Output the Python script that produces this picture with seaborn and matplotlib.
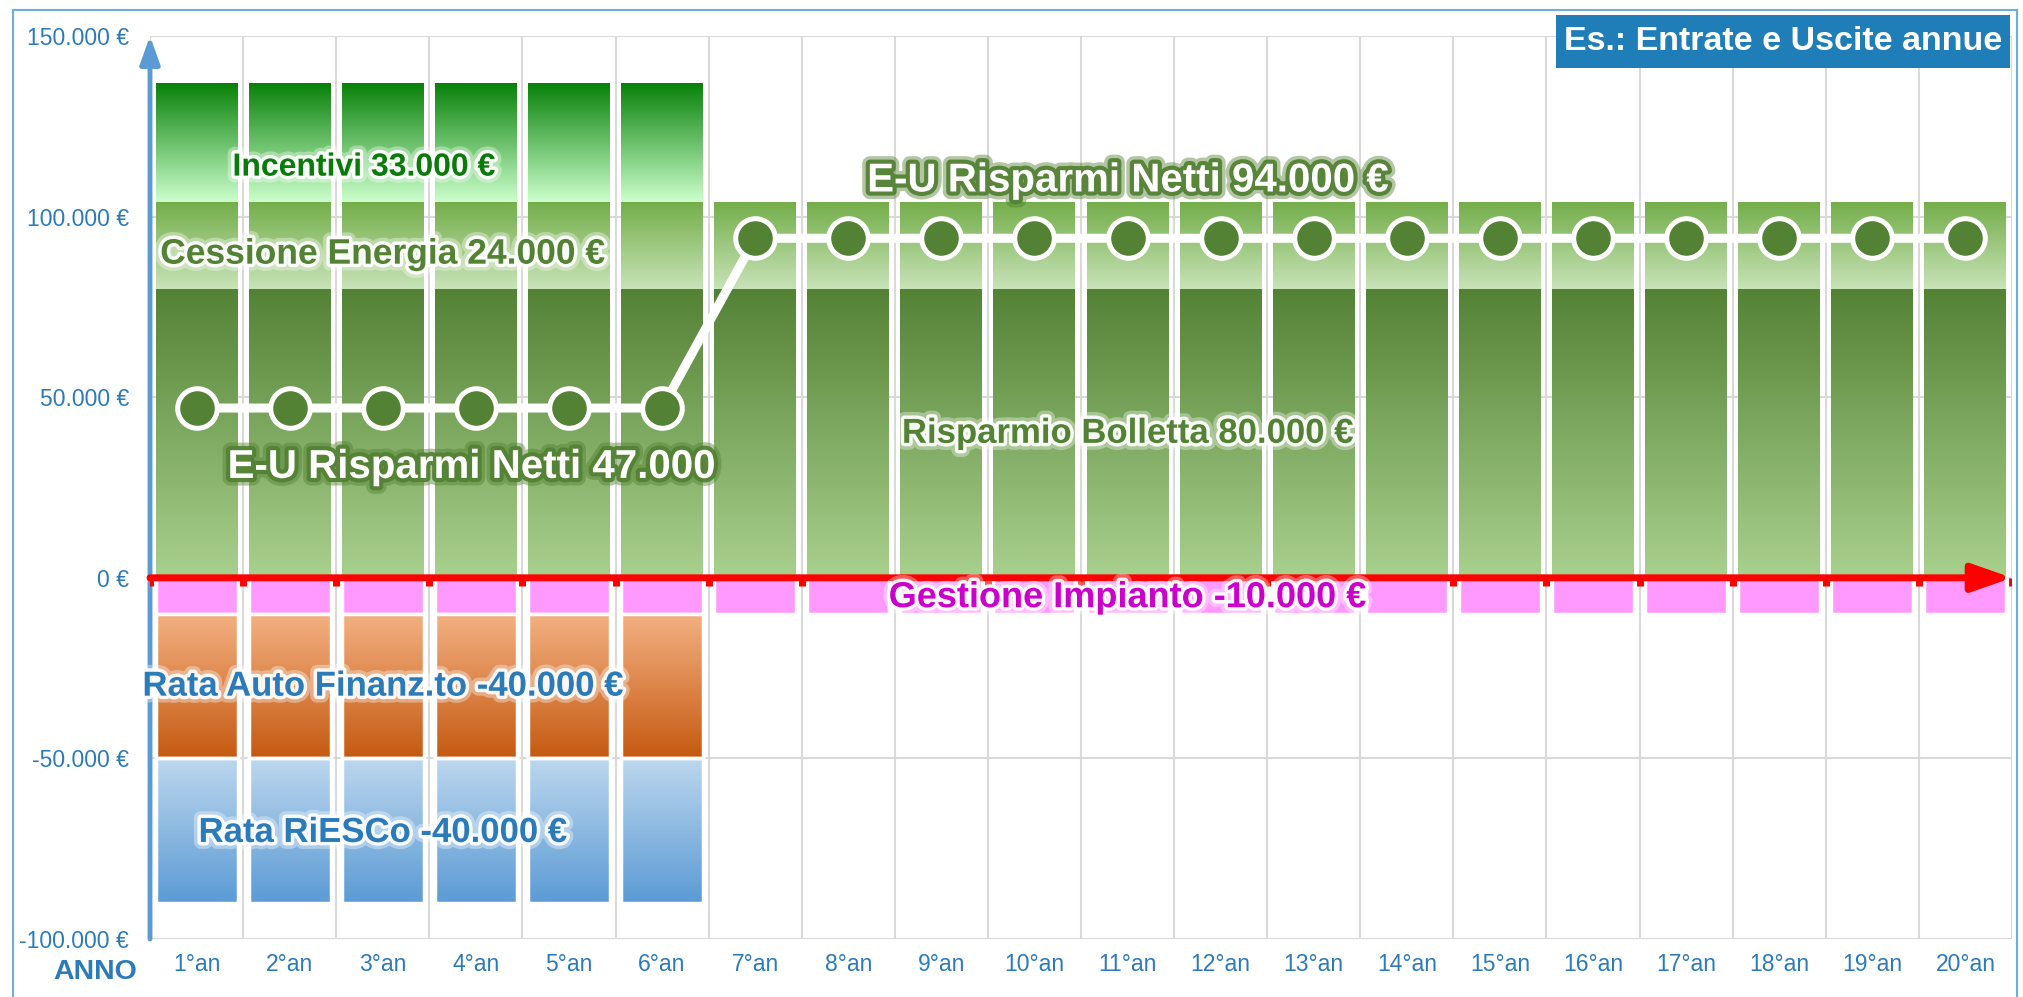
import numpy as np
import matplotlib
matplotlib.use('Agg')
import matplotlib.pyplot as plt
import matplotlib.patheffects as pe
from matplotlib.colors import LinearSegmentedColormap
from matplotlib.patches import Rectangle
import seaborn as sns

# dati (euro per anno)
anni = ['1°an', '2°an', '3°an', '4°an', '5°an', '6°an', '7°an', '8°an', '9°an', '10°an',
        '11°an', '12°an', '13°an', '14°an', '15°an', '16°an', '17°an', '18°an', '19°an', '20°an']
risparmio_bolletta = [80000, 80000, 80000, 80000, 80000, 80000, 80000, 80000, 80000, 80000,
                      80000, 80000, 80000, 80000, 80000, 80000, 80000, 80000, 80000, 80000]
cessione_energia = [24000, 24000, 24000, 24000, 24000, 24000, 24000, 24000, 24000, 24000,
                    24000, 24000, 24000, 24000, 24000, 24000, 24000, 24000, 24000, 24000]
incentivi = [33000, 33000, 33000, 33000, 33000, 33000, 0, 0, 0, 0,
             0, 0, 0, 0, 0, 0, 0, 0, 0, 0]
gestione_impianto = [-10000, -10000, -10000, -10000, -10000, -10000, -10000, -10000, -10000, -10000,
                     -10000, -10000, -10000, -10000, -10000, -10000, -10000, -10000, -10000, -10000]
rata_auto = [-40000, -40000, -40000, -40000, -40000, -40000, 0, 0, 0, 0,
             0, 0, 0, 0, 0, 0, 0, 0, 0, 0]
rata_riesco = [-40000, -40000, -40000, -40000, -40000, -40000, 0, 0, 0, 0,
               0, 0, 0, 0, 0, 0, 0, 0, 0, 0]
risparmi_netti = [47000, 47000, 47000, 47000, 47000, 47000, 94000, 94000, 94000, 94000,
                  94000, 94000, 94000, 94000, 94000, 94000, 94000, 94000, 94000, 94000]

BLU = '#2B7BBA'
VERDE = '#548235'
W = 0.88

sns.set_theme(style='white')
plt.rcParams['font.family'] = ['Liberation Sans', 'DejaVu Sans']

fig = plt.figure(figsize=(20.24, 9.97), dpi=100)
ax = fig.add_axes([150 / 2024, 58 / 997, 1862 / 2024, 903 / 997])
x = np.arange(len(anni))


def gradient_bars(values, bottoms, top_col, bot_col, edge=None):
    cmap = LinearSegmentedColormap.from_list('g', [bot_col, top_col])
    bars = ax.bar(x, values, W, bottom=bottoms, color='none', edgecolor='none', zorder=2)
    grad = np.linspace(0, 1, 256).reshape(-1, 1)
    for b in bars:
        h = b.get_height()
        if h == 0:
            continue
        x0, y0, w = b.get_x(), b.get_y(), b.get_width()
        lo, hi = min(y0, y0 + h), max(y0, y0 + h)
        im = ax.imshow(grad, extent=[x0, x0 + w, lo, hi], origin='lower', cmap=cmap,
                       aspect='auto', zorder=2, interpolation='bicubic')
        im.set_clip_path(b)
        if edge:
            ax.add_patch(Rectangle((x0, lo), w, hi - lo, fill=False, edgecolor=edge,
                                   lw=2.5, zorder=2.5))


# barre positive
bot = np.zeros(len(anni))
gradient_bars(risparmio_bolletta, bot, VERDE, '#A9D18E')
bot = bot + np.array(risparmio_bolletta)
gradient_bars(cessione_energia, bot, '#74AE4A', '#C8E3B8')
bot = bot + np.array(cessione_energia)
gradient_bars(incentivi, bot, '#078007', '#CCFFCC')

# barre negative
sns.barplot(x=x, y=gestione_impianto, color='#FF99FF', saturation=1, width=W,
            edgecolor='white', linewidth=2.5, ax=ax, zorder=2, native_scale=True)
neg = np.array(gestione_impianto, dtype=float)
gradient_bars(rata_auto, neg, '#F4B183', '#C55A11', edge='white')
neg = neg + np.array(rata_auto)
gradient_bars(rata_riesco, neg, '#BDD7EE', '#5B9BD5', edge='white')

# linea risparmi netti
sns.lineplot(x=x, y=risparmi_netti, ax=ax, color='white', lw=6.5, marker='o',
             markersize=28.5, markerfacecolor=VERDE, markeredgecolor='white',
             markeredgewidth=3.6, zorder=6)

ax.set_xlim(-0.5, len(anni) - 0.5)
ax.set_ylim(-100000, 150000)
ax.set_yticks([-100000, -50000, 0, 50000, 100000, 150000])
ax.set_yticklabels([f'{v:,.0f} €'.replace(',', '.') for v in ax.get_yticks()])
ax.set_xticks(x)
ax.set_xticklabels(anni)
ax.set_xticks(np.arange(-0.5, len(anni)), minor=True)
ax.set_xlabel('')
ax.set_ylabel('')
for s in ax.spines.values():
    s.set_visible(False)
ax.set_axisbelow(True)
ax.grid(axis='y', which='major', color='#D9D9D9', lw=1.5)
ax.grid(axis='x', which='minor', color='#D9D9D9', lw=1.5)
ax.grid(axis='x', which='major', visible=False)
ax.tick_params(axis='y', length=5, width=5, color='#5B9BD5', direction='out', pad=10,
               labelsize=16.5, labelcolor=BLU)
ax.tick_params(axis='x', which='both', length=0, pad=10, labelsize=16.5, labelcolor=BLU)

# assi con frecce
ax.annotate('', xy=(-0.5, 150000), xytext=(-0.5, -100000), annotation_clip=False,
            arrowprops=dict(arrowstyle='-|>,head_length=0.7,head_width=0.25', color='#5B9BD5',
                            lw=3.5, mutation_scale=24, shrinkA=0, shrinkB=0), zorder=5)
ax.vlines(np.arange(-0.5, len(anni)), -2300, 0, colors='red', lw=5, zorder=5)
ax.annotate('', xy=(len(anni) - 0.5, 0), xytext=(-0.5, 0), annotation_clip=False,
            arrowprops=dict(arrowstyle='-|>,head_length=1.0,head_width=0.35', color='red',
                            lw=5, mutation_scale=24, shrinkA=0, shrinkB=0), zorder=5)

# etichette
glow_bianco = [pe.Stroke(linewidth=10, foreground='white', alpha=0.35),
               pe.Stroke(linewidth=5, foreground='white', alpha=0.9), pe.Normal()]
glow_verde = [pe.Stroke(linewidth=11, foreground=VERDE, alpha=0.45),
              pe.Stroke(linewidth=6, foreground=VERDE, alpha=0.95), pe.Normal()]
ax.text(1.8, 104000 + incentivi[0] * 0.29, 'Incentivi 33.000 €', color='#0A7A0A',
        fontsize=23, fontweight='bold', ha='center', va='center', path_effects=glow_bianco, zorder=7)
ax.text(2.0, 80000 + cessione_energia[0] * 0.4, 'Cessione Energia 24.000 €', color=VERDE,
        fontsize=25.5, fontweight='bold', ha='center', va='center', path_effects=glow_bianco, zorder=7)
ax.text(10, 110000, 'E-U Risparmi Netti 94.000 €', color='white', fontsize=29,
        fontweight='bold', ha='center', va='center', path_effects=glow_verde, zorder=7)
ax.text(2.95, 30700, 'E-U Risparmi Netti 47.000', color='white', fontsize=29,
        fontweight='bold', ha='center', va='center', path_effects=glow_verde, zorder=7)
ax.text(10, risparmio_bolletta[10] / 2, 'Risparmio Bolletta 80.000 €', color=VERDE,
        fontsize=25, fontweight='bold', ha='center', va='center', path_effects=glow_bianco, zorder=7)
ax.text(10, gestione_impianto[10] * 0.55, 'Gestione Impianto -10.000 €', color='#CC00CC',
        fontsize=26, fontweight='bold', ha='center', va='center', path_effects=glow_bianco, zorder=7)
ax.text(2.0, -30000, 'Rata Auto Finanz.to -40.000 €', color=BLU,
        fontsize=25, fontweight='bold', ha='center', va='center', path_effects=glow_bianco, zorder=7)
ax.text(2.0, -70500, 'Rata RiESCo -40.000 €', color=BLU,
        fontsize=25, fontweight='bold', ha='center', va='center', path_effects=glow_bianco, zorder=7)

fig.text(95 / 2024, 1 - 972 / 997, 'ANNO', color=BLU, fontsize=20.5, fontweight='bold',
         ha='center', va='center')

# titolo
fig.patches.append(Rectangle((1556 / 2024, 1 - 68 / 997), 454 / 2024, 53 / 997,
                             transform=fig.transFigure, facecolor='#1F7EB8', edgecolor='none'))
fig.text(1783 / 2024, 1 - 42 / 997, 'Es.: Entrate e Uscite annue', color='white',
         fontsize=24.5, fontweight='bold', ha='center', va='center')

# cornice
fig.patches.append(Rectangle((13 / 2024, -0.01), 2004 / 2024, 1 - 10 / 997 + 0.01,
                             transform=fig.transFigure, fill=False, edgecolor='#6FAEDC', lw=1.5))

fig.savefig('out.png', dpi=100)
